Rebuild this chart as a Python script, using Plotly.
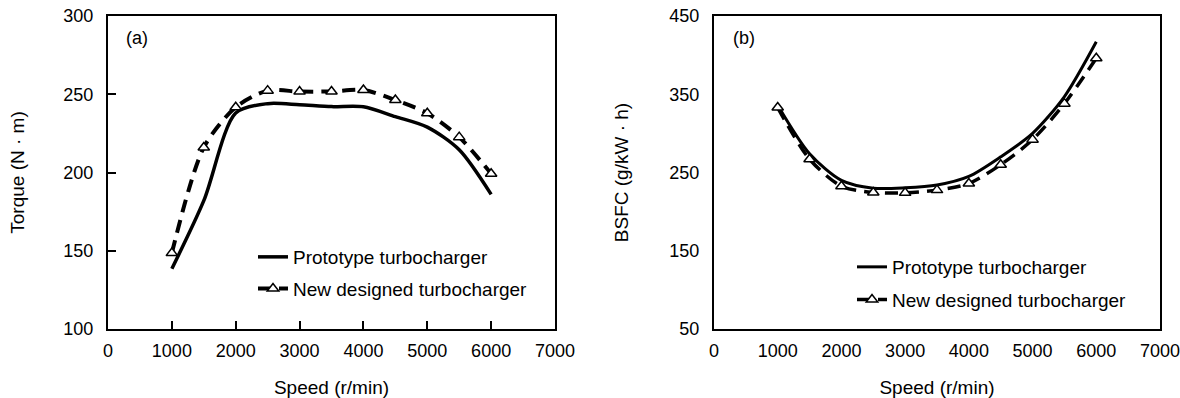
import plotly.graph_objects as go

speed = [1000, 1500, 2000, 2500, 3000, 3500, 4000, 4500, 5000, 5500, 6000]

torque_proto = [138.5, 182, 238, 244, 243.3, 242.1, 242, 235.7, 229, 214.5, 186]
torque_new = [148.5, 216, 241.7, 252.3, 251.7, 251.8, 252.7, 246.3, 237.9, 222.6, 199.2]

bsfc_proto = [336, 274, 240, 230, 230.5, 234, 245, 270, 300, 347, 417]
bsfc_new = [333, 267, 232.5, 224.5, 224, 227.5, 236, 260, 292, 338, 396]

name_proto = "Prototype turbocharger"
name_new = "New designed turbocharger"

FONT = "Arial, Liberation Sans, sans-serif"
W, H = 1180, 398

fig = go.Figure()

def px_x(p):
    return p / W

def px_y(p):
    return 1 - p / H

# Panel (a)
fig.add_trace(go.Scatter(
    x=speed, y=torque_proto, mode="lines", name=name_proto,
    line=dict(color="black", width=3.5, shape="spline", smoothing=0.8),
    xaxis="x", yaxis="y", legend="legend", legendgroup="a1"))
fig.add_trace(go.Scatter(
    x=speed, y=torque_new, mode="lines+markers", name=name_new,
    line=dict(color="black", width=4, dash="13px,8px", shape="spline", smoothing=0.8),
    marker=dict(symbol="triangle-up", size=10, color="white", line=dict(color="black", width=1.5)),
    xaxis="x", yaxis="y", legend="legend", legendgroup="a2"))

# Panel (b)
fig.add_trace(go.Scatter(
    x=speed, y=bsfc_proto, mode="lines", name=name_proto,
    line=dict(color="black", width=3, shape="spline", smoothing=0.8),
    xaxis="x2", yaxis="y2", legend="legend2", legendgroup="b1"))
fig.add_trace(go.Scatter(
    x=speed, y=bsfc_new, mode="lines+markers", name=name_new,
    line=dict(color="black", width=3.5, dash="13px,8px", shape="spline", smoothing=0.8),
    marker=dict(symbol="triangle-up", size=10, color="white", line=dict(color="black", width=1.5)),
    xaxis="x2", yaxis="y2", legend="legend2", legendgroup="b2"))

ydom = [px_y(329), px_y(16)]

common_axis = dict(showline=True, linecolor="black", linewidth=2, mirror=True,
                   showgrid=False, zeroline=False, automargin=False,
                   ticklabeloverflow="allow",
                   tickfont=dict(family=FONT, size=18, color="black"),
                   title_font=dict(family=FONT, size=19, color="black"))

fig.update_layout(
    width=W, height=H,
    margin=dict(l=0, r=0, t=0, b=0),
    paper_bgcolor="white", plot_bgcolor="white",
    font=dict(family=FONT, size=18, color="black"),
    xaxis=dict(domain=[px_x(108), px_x(555)], range=[0, 7000], dtick=1000, tick0=0,
               ticks="inside", ticklen=8, tickwidth=2, tickcolor="black",
               ticklabelstandoff=4,
               title=dict(text="Speed (r/min)", standoff=21), anchor="y", **common_axis),
    yaxis=dict(domain=ydom, range=[100, 300], dtick=50, tick0=100,
               ticks="inside", ticklen=8, tickwidth=2, tickcolor="black",
               ticklabelstandoff=9,
               title=dict(text="Torque (N · m)", standoff=34), anchor="x", **common_axis),
    xaxis2=dict(domain=[px_x(714), px_x(1160)], range=[0, 7000], dtick=1000, tick0=0,
                ticks="", ticklabelstandoff=4,
                title=dict(text="Speed (r/min)", standoff=21), anchor="y2", **common_axis),
    yaxis2=dict(domain=ydom, range=[50, 450], dtick=100, tick0=50,
                ticks="", ticklabelstandoff=9,
                title=dict(text="BSFC (g/kW · h)", standoff=36), anchor="x2", **common_axis),
    legend=dict(x=px_x(253), y=px_y(238), xanchor="left", yanchor="top",
                bgcolor="rgba(0,0,0,0)", traceorder="grouped", tracegroupgap=4,
                font=dict(family=FONT, size=19, color="black")),
    legend2=dict(x=px_x(852), y=px_y(248), xanchor="left", yanchor="top",
                 bgcolor="rgba(0,0,0,0)", traceorder="grouped", tracegroupgap=5,
                 font=dict(family=FONT, size=19, color="black")),
    annotations=[
        dict(text="(a)", x=px_x(124), y=px_y(38), xref="paper", yref="paper",
             xanchor="left", yanchor="middle", showarrow=False,
             font=dict(family=FONT, size=18, color="black")),
        dict(text="(b)", x=px_x(731), y=px_y(38), xref="paper", yref="paper",
             xanchor="left", yanchor="middle", showarrow=False,
             font=dict(family=FONT, size=18, color="black")),
    ],
)

fig.write_html(
    "out.html",
    config={"displayModeBar": False},
    post_script="document.body.style.margin='0';document.body.style.overflow='hidden';",
)
